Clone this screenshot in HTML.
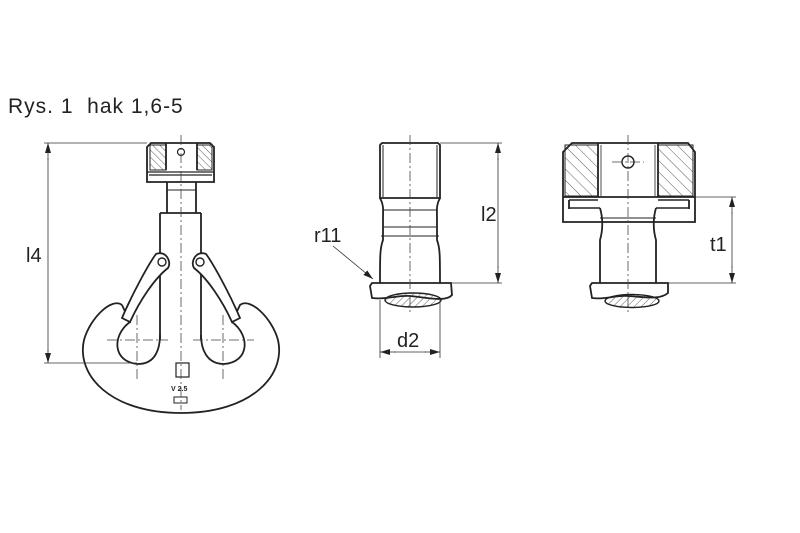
<!DOCTYPE html>
<html><head><meta charset="utf-8"><style>
html,body{margin:0;padding:0;background:#fff;}
svg{display:block}
text{font-family:"Liberation Sans",Arial,sans-serif;fill:#222;white-space:pre}
</style></head><body>
<svg width="800" height="533" viewBox="0 0 800 533" xmlns="http://www.w3.org/2000/svg">
<defs>
<pattern id="h" width="5" height="5" patternUnits="userSpaceOnUse" patternTransform="rotate(-45)">
<line x1="0" y1="0" x2="0" y2="5" stroke="#333" stroke-width="0.8"/></pattern>
<pattern id="hb" width="8" height="8" patternUnits="userSpaceOnUse" patternTransform="rotate(-45)">
<line x1="0" y1="0" x2="0" y2="8" stroke="#333" stroke-width="0.8"/></pattern>
<pattern id="h2" width="5" height="5" patternUnits="userSpaceOnUse" patternTransform="rotate(45)">
<line x1="0" y1="0" x2="0" y2="5" stroke="#333" stroke-width="0.8"/></pattern>
<marker id="a" markerWidth="10" markerHeight="6" refX="10" refY="3" orient="auto" markerUnits="userSpaceOnUse">
<path d="M0,0 L10,3 L0,6 z" fill="#222"/></marker>
</defs>
<rect width="800" height="533" fill="#fff"/>
<text x="8" y="113" font-size="21" letter-spacing="1">Rys. 1  hak 1,6-5</text>

<!-- HOOK -->
<g stroke="#222" fill="none" stroke-width="1.8">
<path d="M147,147 L151,143 L210,143 L214,147 L214,182 L147,182 Z" fill="#fff"/>
<rect x="150" y="145" width="16" height="25" fill="url(#h)" stroke-width="1"/>
<rect x="197" y="145" width="15" height="25" fill="url(#h)" stroke-width="1"/>
<line x1="166" y1="143" x2="166" y2="170"/><line x1="197" y1="143" x2="197" y2="170"/>
<line x1="147" y1="172" x2="214" y2="172" stroke-width="1.2"/>
<line x1="149" y1="175" x2="212" y2="175" stroke-width="1.2"/>
<circle cx="181" cy="152" r="3.5" stroke-width="1.2"/>
<path d="M167,182 L167,213 M196,182 L196,213" />
<line x1="167" y1="190" x2="196" y2="190" stroke-width="1"/>
<path d="M160,213 L201,213 M160,213 L160,340 M201,213 L201,340"/>
<path d="M122,305 C112,297 90,318 84,340 C76,375 110,413 181,413 C252,413 286,375 278,340 C272,318 250,297 240,305 L232,322 C250,335 250,362 224,364 C206,364 201,348 201,335 M122,305 L130,322 C112,335 112,362 138,364 C156,364 160,348 160,335"/>
<path d="M156,254 C150,262 134,290 122,318 L130,322 C140,300 155,278 168,268 C172,262 166,250 156,254 Z" fill="#fff"/>
<path d="M206,254 C212,262 228,290 240,318 L232,322 C222,300 207,278 194,268 C190,262 196,250 206,254 Z" fill="#fff"/>
<circle cx="162" cy="262" r="4" stroke-width="1.4"/>
<circle cx="200" cy="262" r="4" stroke-width="1.4"/>
<rect x="176" y="363" width="13" height="14" stroke-width="1.2"/>
</g>
<text x="171" y="391" font-size="7" font-weight="bold">V 2.5</text>
<rect x="174" y="397" width="13" height="6" fill="none" stroke="#222" stroke-width="1"/>
<g stroke="#444" stroke-width="0.8" stroke-dasharray="10,3,2,3" fill="none">
<line x1="181" y1="135" x2="181" y2="410"/>
<line x1="107" y1="340" x2="168" y2="340"/><line x1="193" y1="340" x2="254" y2="340"/>
<line x1="137" y1="315" x2="137" y2="380"/><line x1="223" y1="315" x2="223" y2="380"/>
</g>
<g stroke="#333" stroke-width="0.8">
<line x1="44" y1="143" x2="147" y2="143"/>
<line x1="44" y1="363" x2="137" y2="363"/>
<line x1="48" y1="160" x2="48" y2="143" marker-end="url(#a)"/>
<line x1="48" y1="350" x2="48" y2="363" marker-end="url(#a)"/>
<line x1="48" y1="158" x2="48" y2="352"/>
</g>
<text x="26" y="262" font-size="20">l4</text>

<!-- MIDDLE -->
<g stroke="#222" fill="none" stroke-width="1.8">
<path d="M380,145 L382,143 L438,143 L440,145 L440,198 L380,198 Z"/>
<line x1="383" y1="145" x2="383" y2="197" stroke-width="1"/><line x1="437" y1="145" x2="437" y2="197" stroke-width="1"/>
<path d="M380,198 C384,205 383,210 383,220 L383,240 C380,248 380,255 380,283 M440,198 C436,205 437,210 437,220 L437,240 C440,248 440,255 440,283"/>
<line x1="383" y1="210" x2="437" y2="210" stroke-width="1"/>
<line x1="383" y1="227" x2="437" y2="227" stroke-width="1"/>
<line x1="381" y1="236" x2="439" y2="236" stroke-width="1"/>
<path d="M372,283 L451,283 L452,295 C446,302 430,298 410,296 C398,295 385,300 372,298 L370,286 Z" fill="#fff"/>
<ellipse cx="413" cy="300" rx="28" ry="7" fill="url(#h2)" stroke-width="1.4"/>
</g>
<g stroke="#444" stroke-width="0.8" stroke-dasharray="10,3,2,3"><line x1="410" y1="135" x2="410" y2="315"/></g>
<g stroke="#333" stroke-width="0.8">
<line x1="440" y1="143" x2="502" y2="143"/><line x1="452" y1="283" x2="502" y2="283"/>
<line x1="498" y1="160" x2="498" y2="143" marker-end="url(#a)"/>
<line x1="498" y1="266" x2="498" y2="283" marker-end="url(#a)"/>
<line x1="498" y1="158" x2="498" y2="268"/>
<line x1="380" y1="300" x2="380" y2="358"/><line x1="440" y1="300" x2="440" y2="358"/>
<line x1="396" y1="352" x2="380" y2="352" marker-end="url(#a)"/>
<line x1="424" y1="352" x2="440" y2="352" marker-end="url(#a)"/>
<line x1="394" y1="352" x2="426" y2="352"/>
<line x1="333" y1="246" x2="373" y2="279" marker-end="url(#a)"/>
</g>
<text x="397" y="347" font-size="20">d2</text>
<text x="481" y="221" font-size="20">l2</text>
<text x="314" y="242" font-size="20">r11</text>

<!-- RIGHT -->
<g stroke="#222" fill="none" stroke-width="1.8">
<path d="M563,152 L572,143 L688,143 L695,152 L695,222 L563,222 Z" fill="#fff"/>
<rect x="565" y="145" width="33" height="51" fill="url(#hb)" stroke-width="1"/>
<rect x="658" y="145" width="35" height="51" fill="url(#hb)" stroke-width="1"/>
<line x1="598" y1="143" x2="598" y2="197"/><line x1="658" y1="143" x2="658" y2="197"/>
<line x1="601" y1="145" x2="601" y2="196" stroke-width="0.8"/><line x1="655" y1="145" x2="655" y2="196" stroke-width="0.8"/>
<line x1="563" y1="197" x2="695" y2="197"/>
<path d="M569,200 L598,200 M569,208 L600,208 M658,200 L689,200 M656,208 L689,208" stroke-width="1.4"/>
<path d="M569,200 L569,209 M689,200 L689,209"/>
<line x1="600" y1="218" x2="656" y2="218" stroke-width="1"/>
<circle cx="628" cy="162" r="6" stroke-width="1.4"/>
<path d="M600,208 C603,218 603,230 600,240 L600,283 M656,208 C653,218 653,230 656,240 L656,283"/>
<path d="M592,283 L668,283 L668,293 C660,300 645,297 628,296 C615,295 604,300 592,298 L590,286 Z" fill="#fff"/>
<ellipse cx="632" cy="301" rx="27" ry="6.5" fill="url(#h2)" stroke-width="1.4"/>
</g>
<g stroke="#444" stroke-width="0.8" stroke-dasharray="10,3,2,3"><line x1="628" y1="135" x2="628" y2="315"/><line x1="612" y1="162" x2="644" y2="162"/></g>
<g stroke="#333" stroke-width="0.8">
<line x1="695" y1="197" x2="736" y2="197"/><line x1="668" y1="283" x2="736" y2="283"/>
<line x1="732" y1="214" x2="732" y2="197" marker-end="url(#a)"/>
<line x1="732" y1="266" x2="732" y2="283" marker-end="url(#a)"/>
<line x1="732" y1="212" x2="732" y2="268"/>
</g>
<text x="710" y="251" font-size="20">t1</text>
</svg>
</body></html>
